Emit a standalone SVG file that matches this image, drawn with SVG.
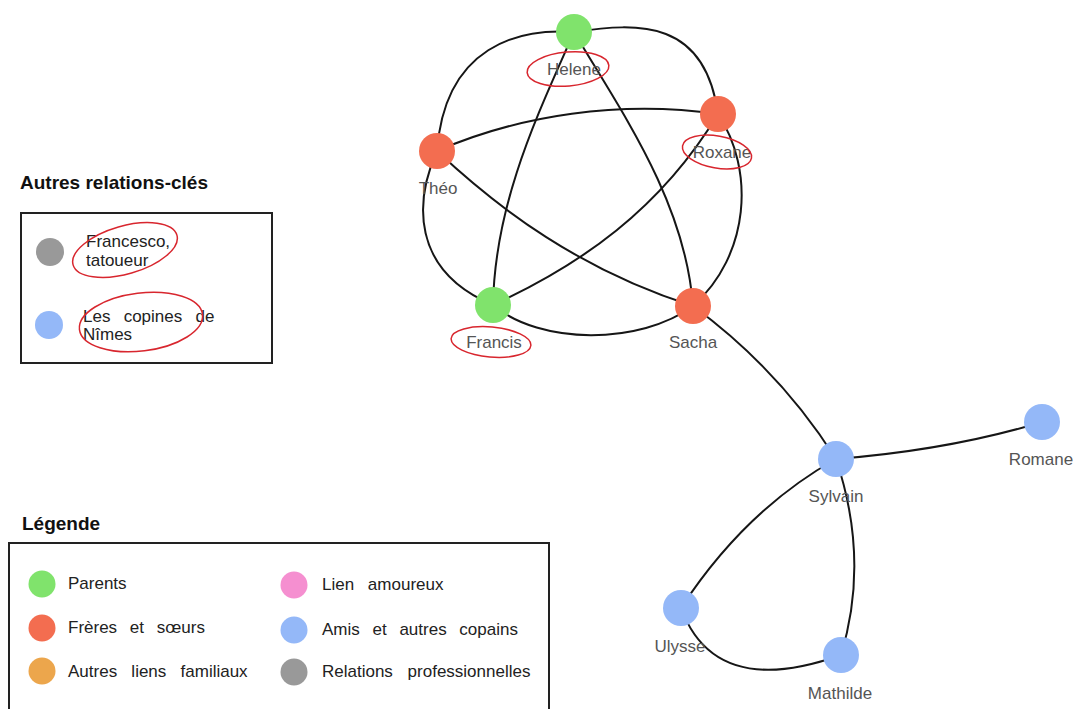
<svg xmlns="http://www.w3.org/2000/svg" width="1077" height="709" viewBox="0 0 1077 709">
<style>
  .edge { fill: none; stroke: #161616; stroke-width: 2; }
  .node { stroke: none; }
  .green { fill: #80e36c; }
  .red { fill: #f36d50; }
  .blue { fill: #94b8f8; }
  .grey { fill: #999999; }
  .orange { fill: #eca64c; }
  .pink { fill: #f58fd0; }
  .label { font-family: "Liberation Sans", Arial, sans-serif; font-size: 17px; fill: #555555; text-anchor: middle; }
  .title { font-family: "Liberation Sans", Arial, sans-serif; font-size: 19px; font-weight: bold; fill: #111111; }
  .ltext { font-family: "Liberation Sans", Arial, sans-serif; font-size: 17px; fill: #222222; word-spacing: 8px; }
  .box { fill: none; stroke: #222222; stroke-width: 2; }
  .mark { fill: none; stroke: #d8262e; stroke-width: 1.5; }
</style>
<rect width="1077" height="709" fill="#ffffff"/>

<g id="connectors">
  <path class="edge" d="M574,32 C640,22 705,20 718,114"/>
  <path class="edge" d="M574,32 C520,28 445,45 437,151"/>
  <path class="edge" d="M437,151 C415,200 410,270 493,305"/>
  <path class="edge" d="M493,305 C540,345 640,345 693,306"/>
  <path class="edge" d="M693,306 C750,255 755,170 718,114"/>
  <path class="edge" d="M437,151 C520,115 620,100 718,114"/>
  <path class="edge" d="M437,151 C500,210 580,270 693,306"/>
  <path class="edge" d="M574,32 C540,110 495,200 493,305"/>
  <path class="edge" d="M574,32 C620,110 685,200 693,306"/>
  <path class="edge" d="M493,305 C580,265 660,210 718,114"/>
  <path class="edge" d="M693,306 Q780,370 836,459"/>
  <path class="edge" d="M836,459 Q950,450 1042,422"/>
  <path class="edge" d="M836,459 Q745,510 681,608"/>
  <path class="edge" d="M836,459 Q870,560 841,655"/>
  <path class="edge" d="M681,608 Q715,700 841,655"/>
</g>

<g id="node-helene">
  <circle class="node green" cx="574" cy="32" r="18"/>
  <text class="label" x="574" y="75">Helene</text>
  <ellipse class="mark" cx="568" cy="69" rx="41" ry="17" transform="rotate(-5 568 69)"/>
</g>
<g id="node-roxane">
  <circle class="node red" cx="718" cy="114" r="18"/>
  <text class="label" x="722" y="158">Roxane</text>
  <ellipse class="mark" cx="717" cy="152" rx="35" ry="16" transform="rotate(10 717 152)"/>
</g>
<g id="node-theo">
  <circle class="node red" cx="437" cy="151" r="18"/>
  <text class="label" x="438" y="194">Théo</text>
</g>
<g id="node-francis">
  <circle class="node green" cx="493" cy="305" r="18"/>
  <text class="label" x="494" y="348">Francis</text>
  <ellipse class="mark" cx="491" cy="342" rx="40" ry="15" transform="rotate(5 491 342)"/>
</g>
<g id="node-sacha">
  <circle class="node red" cx="693" cy="306" r="18"/>
  <text class="label" x="693" y="348">Sacha</text>
</g>
<g id="node-sylvain">
  <circle class="node blue" cx="836" cy="459" r="18"/>
  <text class="label" x="836" y="502">Sylvain</text>
</g>
<g id="node-romane">
  <circle class="node blue" cx="1042" cy="422" r="18"/>
  <text class="label" x="1041" y="465">Romane</text>
</g>
<g id="node-ulysse">
  <circle class="node blue" cx="681" cy="608" r="18"/>
  <text class="label" x="680" y="652">Ulysse</text>
</g>
<g id="node-mathilde">
  <circle class="node blue" cx="841" cy="655" r="18"/>
  <text class="label" x="840" y="699">Mathilde</text>
</g>

<g id="autres-relations">
  <text class="title" x="20" y="189">Autres relations-clés</text>
  <rect class="box" x="21" y="213" width="251" height="150"/>
  <circle class="grey" cx="50" cy="252" r="14"/>
  <text class="ltext" x="86" y="247">Francesco,</text>
  <text class="ltext" x="86" y="266">tatoueur</text>
  <ellipse class="mark" cx="125" cy="250" rx="54" ry="24" transform="rotate(-16 125 250)"/>
  <circle class="blue" cx="49" cy="325" r="14"/>
  <text class="ltext" x="83" y="322" style="word-spacing:8.5px">Les copines de</text>
  <text class="ltext" x="83" y="340">Nîmes</text>
  <ellipse class="mark" cx="141" cy="322" rx="62" ry="29" transform="rotate(-7 141 322)"/>
</g>

<g id="legende">
  <text class="title" x="22" y="530">Légende</text>
  <rect class="box" x="9" y="543" width="540" height="200"/>
  <circle class="green" cx="42" cy="584" r="13.5"/>
  <text class="ltext" x="68" y="589">Parents</text>
  <circle class="red" cx="42" cy="628" r="13.5"/>
  <text class="ltext" x="68" y="633">Frères et sœurs</text>
  <circle class="orange" cx="42" cy="671" r="13.5"/>
  <text class="ltext" x="68" y="677" style="word-spacing:9.5px">Autres liens familiaux</text>
  <circle class="pink" cx="294" cy="585" r="13.5"/>
  <text class="ltext" x="322" y="590" style="word-spacing:9px">Lien amoureux</text>
  <circle class="blue" cx="294" cy="630" r="13.5"/>
  <text class="ltext" x="322" y="635">Amis et autres copains</text>
  <circle class="grey" cx="294" cy="672" r="13.5"/>
  <text class="ltext" x="322" y="677" style="word-spacing:10px">Relations professionnelles</text>
</g>
</svg>
